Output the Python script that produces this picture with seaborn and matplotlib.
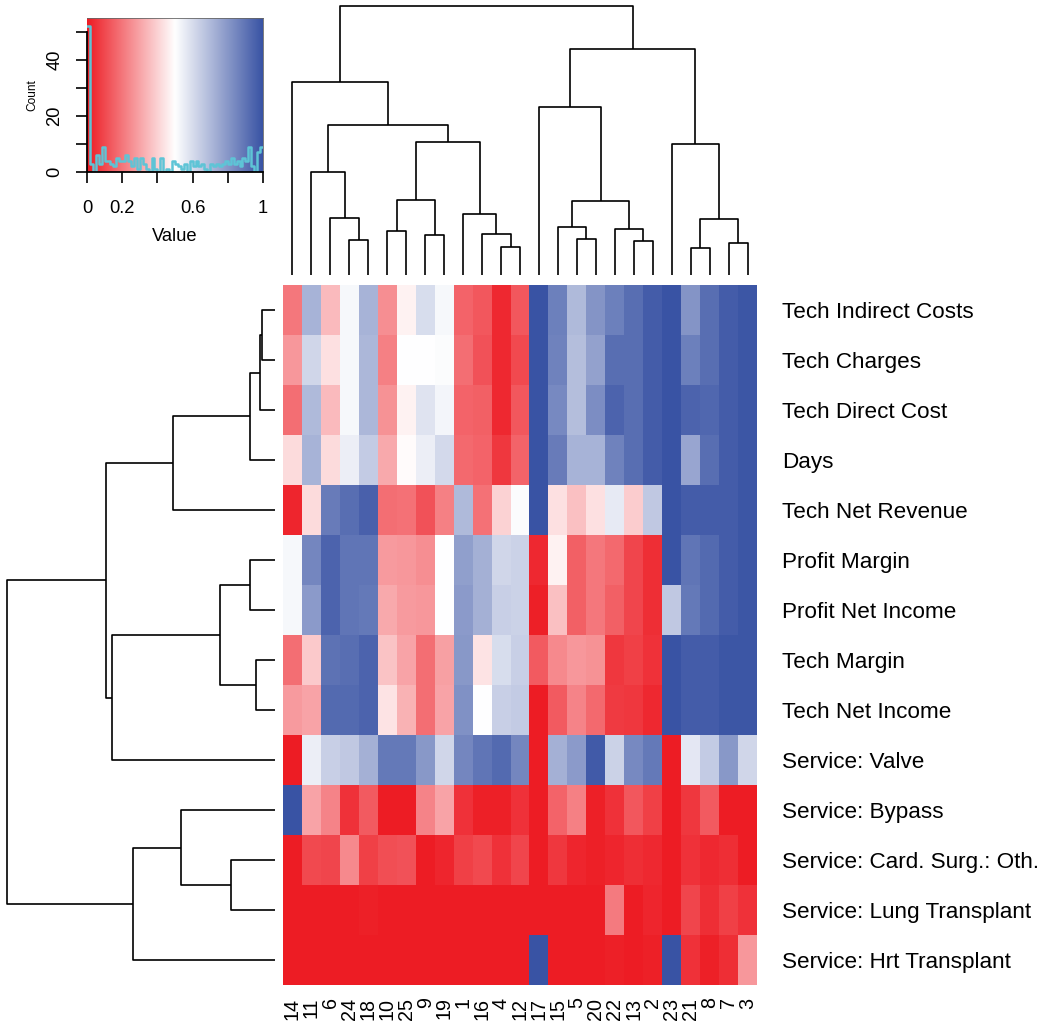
import numpy as np
import pandas as pd
import matplotlib
matplotlib.use("Agg")
import matplotlib.pyplot as plt
import seaborn as sns
from matplotlib.colors import LinearSegmentedColormap

plt.rcParams['font.family'] = ['Liberation Sans', 'DejaVu Sans']

# ---------------- data ----------------
col_labels = ["14", "11", "6", "24", "18", "10", "25", "9", "19", "1", "16", "4", "12",
              "17", "15", "5", "20", "22", "13", "2", "23", "21", "8", "7", "3"]
row_labels = ["Tech Indirect Costs", "Tech Charges", "Tech Direct Cost", "Days",
              "Tech Net Revenue", "Profit Margin", "Profit Net Income", "Tech Margin",
              "Tech Net Income", "Service: Valve", "Service: Bypass",
              "Service: Card. Surg.: Oth.", "Service: Lung Transplant", "Service: Hrt Transplant"]

tech_indirect_costs = [0.20, 0.72, 0.35, 0.52, 0.72, 0.25, 0.47, 0.60, 0.52, 0.16, 0.13, 0.03, 0.13, 1.00, 0.87, 0.70, 0.81, 0.87, 0.92, 0.97, 1.00, 0.81, 0.92, 0.97, 0.99]
tech_charges        = [0.27, 0.62, 0.43, 0.52, 0.71, 0.22, 0.50, 0.50, 0.51, 0.18, 0.12, 0.03, 0.10, 1.00, 0.86, 0.69, 0.77, 0.92, 0.92, 0.97, 1.00, 0.87, 0.92, 0.97, 0.99]
tech_direct_cost    = [0.18, 0.70, 0.35, 0.52, 0.71, 0.26, 0.47, 0.58, 0.53, 0.16, 0.15, 0.03, 0.13, 1.00, 0.84, 0.69, 0.83, 0.95, 0.92, 0.97, 1.00, 0.95, 0.94, 0.97, 0.99]
days                = [0.42, 0.72, 0.42, 0.55, 0.65, 0.31, 0.49, 0.55, 0.61, 0.17, 0.16, 0.06, 0.16, 1.00, 0.88, 0.72, 0.72, 0.86, 0.92, 0.97, 1.00, 0.76, 0.92, 0.97, 0.99]
tech_net_revenue    = [0.02, 0.42, 0.88, 0.92, 0.96, 0.18, 0.19, 0.12, 0.22, 0.70, 0.19, 0.40, 0.51, 1.00, 0.43, 0.36, 0.43, 0.56, 0.39, 0.66, 1.00, 0.97, 0.97, 0.97, 0.99]
profit_margin       = [0.52, 0.85, 0.95, 0.90, 0.90, 0.28, 0.27, 0.25, 0.50, 0.78, 0.73, 0.62, 0.63, 0.03, 0.47, 0.15, 0.20, 0.17, 0.09, 0.04, 1.00, 0.90, 0.93, 0.97, 0.99]
profit_net_income   = [0.52, 0.79, 0.95, 0.90, 0.89, 0.31, 0.28, 0.27, 0.50, 0.79, 0.73, 0.64, 0.63, 0.01, 0.36, 0.15, 0.20, 0.15, 0.09, 0.04, 0.66, 0.89, 0.93, 0.97, 0.99]
tech_margin         = [0.18, 0.38, 0.91, 0.92, 0.95, 0.37, 0.30, 0.18, 0.29, 0.80, 0.44, 0.60, 0.64, 0.14, 0.24, 0.27, 0.26, 0.06, 0.08, 0.05, 1.00, 0.97, 0.97, 0.99, 0.99]
tech_net_income     = [0.28, 0.30, 0.93, 0.93, 0.95, 0.44, 0.33, 0.18, 0.30, 0.82, 0.50, 0.64, 0.65, 0.00, 0.14, 0.23, 0.17, 0.07, 0.06, 0.03, 1.00, 0.97, 0.97, 0.99, 0.99]
service_valve       = [0.00, 0.55, 0.64, 0.66, 0.73, 0.89, 0.89, 0.80, 0.62, 0.85, 0.90, 0.93, 0.85, 0.00, 0.73, 0.79, 0.98, 0.63, 0.84, 0.89, 0.00, 0.57, 0.65, 0.80, 0.62]
service_bypass      = [1.00, 0.30, 0.23, 0.05, 0.14, 0.00, 0.00, 0.23, 0.30, 0.05, 0.01, 0.01, 0.05, 0.00, 0.16, 0.22, 0.01, 0.05, 0.13, 0.08, 0.00, 0.06, 0.14, 0.00, 0.00]
service_card_surg   = [0.00, 0.10, 0.09, 0.24, 0.08, 0.11, 0.12, 0.00, 0.02, 0.08, 0.10, 0.05, 0.09, 0.00, 0.06, 0.02, 0.01, 0.02, 0.04, 0.03, 0.00, 0.05, 0.03, 0.04, 0.00]
service_lung        = [0.00, 0.00, 0.00, 0.00, 0.01, 0.00, 0.00, 0.00, 0.00, 0.00, 0.00, 0.00, 0.00, 0.00, 0.00, 0.00, 0.00, 0.21, 0.00, 0.02, 0.00, 0.09, 0.04, 0.08, 0.05]
service_hrt         = [0.00, 0.00, 0.00, 0.00, 0.00, 0.00, 0.00, 0.00, 0.00, 0.00, 0.00, 0.00, 0.00, 1.00, 0.00, 0.00, 0.00, 0.01, 0.00, 0.01, 1.00, 0.05, 0.01, 0.04, 0.27]

# dendrograms: (left, right, merge height)
col_tree = (
    ("14",
     (("11", ("6", ("24", "18", 1.04), 1.72), 3.10),
      ((("10", "25", 1.32), ("9", "19", 1.20), 2.25),
       ("1", ("16", ("4", "12", 0.85), 1.24), 1.84),
       3.98),
      4.50),
     5.80),
    (("17",
      (("15", ("5", "20", 1.08), 1.43), ("22", ("13", "2", 1.02), 1.37), 2.23),
      5.05),
     ("23", (("21", "8", 0.80), ("7", "3", 0.96), 1.68), 3.93),
     6.77),
    8.07)

row_tree = (
    (((( ("Tech Indirect Costs", "Tech Charges", 0.38), "Tech Direct Cost", 0.45), "Days", 0.76), "Tech Net Revenue", 3.06),
     ((("Profit Margin", "Profit Net Income", 0.76), ("Tech Margin", "Tech Net Income", 0.57), 1.64), "Service: Valve", 4.91),
     5.09),
    (("Service: Bypass", ("Service: Card. Surg.: Oth.", "Service: Lung Transplant", 1.32), 2.82), "Service: Hrt Transplant", 4.28),
    8.05)

# colour-key histogram (60 bins over 0..1)
hist_counts = [52, 3, 0, 6, 3, 9, 4, 4, 3, 2,
               5, 4, 4, 6, 4, 2, 5, 1, 5, 3,
               1, 0, 5, 1, 0, 5, 0, 1, 0, 4,
               3, 2, 1, 3, 0, 4, 2, 4, 2, 3,
               1, 0, 3, 2, 3, 2, 3, 4, 3, 5,
               3, 4, 2, 5, 4, 9, 2, 0, 7, 9]

# ---------------- figure ----------------
df = pd.DataFrame([tech_indirect_costs, tech_charges, tech_direct_cost, days,
                   tech_net_revenue, profit_margin, profit_net_income, tech_margin,
                   tech_net_income, service_valve, service_bypass, service_card_surg,
                   service_lung, service_hrt], index=row_labels, columns=col_labels)

cmap = LinearSegmentedColormap.from_list("rwb", ["#ED1C24", "#FFFFFF", "#3953A4"], N=256)

W, H = 1050, 1033
fig = plt.figure(figsize=(W / 100, H / 100), dpi=100)


def rect(x0, y0, x1, y1):
    return [x0 / W, 1 - y1 / H, (x1 - x0) / W, (y1 - y0) / H]


# heatmap
ax_hm = fig.add_axes(rect(283, 285, 757, 985))
sns.heatmap(df, ax=ax_hm, cmap=cmap, vmin=0, vmax=1, cbar=False,
            xticklabels=True, yticklabels=True)
ax_hm.yaxis.tick_right()
ax_hm.tick_params(axis='y', length=0, pad=18, labelsize=16.2, labelrotation=0)
ax_hm.tick_params(axis='x', length=0, pad=9, labelsize=14.2, labelrotation=90)
for t in ax_hm.get_yticklabels():
    t.set_ha('left')
ax_hm.set_xlabel('')
ax_hm.set_ylabel('')


def draw_tree(ax, node, pos, orient):
    if isinstance(node, str):
        return pos[node], 0.0
    left, right, h = node
    pl, hl = draw_tree(ax, left, pos, orient)
    pr, hr = draw_tree(ax, right, pos, orient)
    xs = [pl, pl, pr, pr]
    ys = [hl, h, h, hr]
    if orient == 'top':
        ax.plot(xs, ys, color='black', lw=1.2, solid_capstyle='butt', clip_on=False)
    else:
        ax.plot(ys, xs, color='black', lw=1.2, solid_capstyle='butt', clip_on=False)
    return (pl + pr) / 2, h


# column dendrogram
ax_cd = fig.add_axes(rect(283, 6, 757, 275))
draw_tree(ax_cd, col_tree, {c: i + 0.5 for i, c in enumerate(col_labels)}, 'top')
ax_cd.set_xlim(0, len(col_labels))
ax_cd.set_ylim(0, col_tree[2])
ax_cd.axis('off')

# row dendrogram
ax_rd = fig.add_axes(rect(7, 285, 275, 985))
draw_tree(ax_rd, row_tree, {r: i + 0.5 for i, r in enumerate(row_labels)}, 'left')
ax_rd.set_ylim(len(row_labels), 0)
ax_rd.set_xlim(row_tree[2], 0)
ax_rd.axis('off')

# colour key with histogram
ax_k = fig.add_axes(rect(87, 18, 263, 172))
ax_k.imshow(np.linspace(0, 1, 256)[None, :], cmap=cmap, aspect='auto',
            extent=[0, 1, 0, 55], interpolation='bilinear')
nb = len(hist_counts)
hist_df = pd.DataFrame({"value": (np.arange(nb) + 0.5) / nb, "count": hist_counts})
sns.histplot(data=hist_df, x="value", weights="count", bins=nb, binrange=(0, 1),
             element='step', fill=False, color='#5EC4D6', linewidth=1.8, ax=ax_k)
ax_k.set_xlim(0, 1)
ax_k.set_ylim(0, 55)
ax_k.set_xticks([0, 0.2, 0.4, 0.6, 0.8, 1.0])
ax_k.set_xticklabels(['0', '0.2', '', '0.6', '', '1'])
ax_k.set_yticks([0, 10, 20, 30, 40, 50])
ax_k.set_yticklabels(['0', '', '20', '', '40', ''], rotation=90, va='center')
ax_k.tick_params(axis='both', direction='out', length=8, width=1.2, labelsize=13.2, colors='black')
ax_k.tick_params(axis='x', pad=12)
ax_k.tick_params(axis='y', pad=9)
ax_k.set_xlabel('Value', fontsize=13.2, labelpad=8)
ax_k.set_ylabel('Count', fontsize=8.6, labelpad=6)
ax_k.spines['left'].set_bounds(0, 50)
ax_k.spines['bottom'].set_bounds(0, 1)
for s in ['left', 'bottom']:
    ax_k.spines[s].set_linewidth(1.3)
for s in ['top', 'right']:
    ax_k.spines[s].set_linewidth(0.6)
    ax_k.spines[s].set_color('#666666')

fig.savefig('out.png', dpi=100)
